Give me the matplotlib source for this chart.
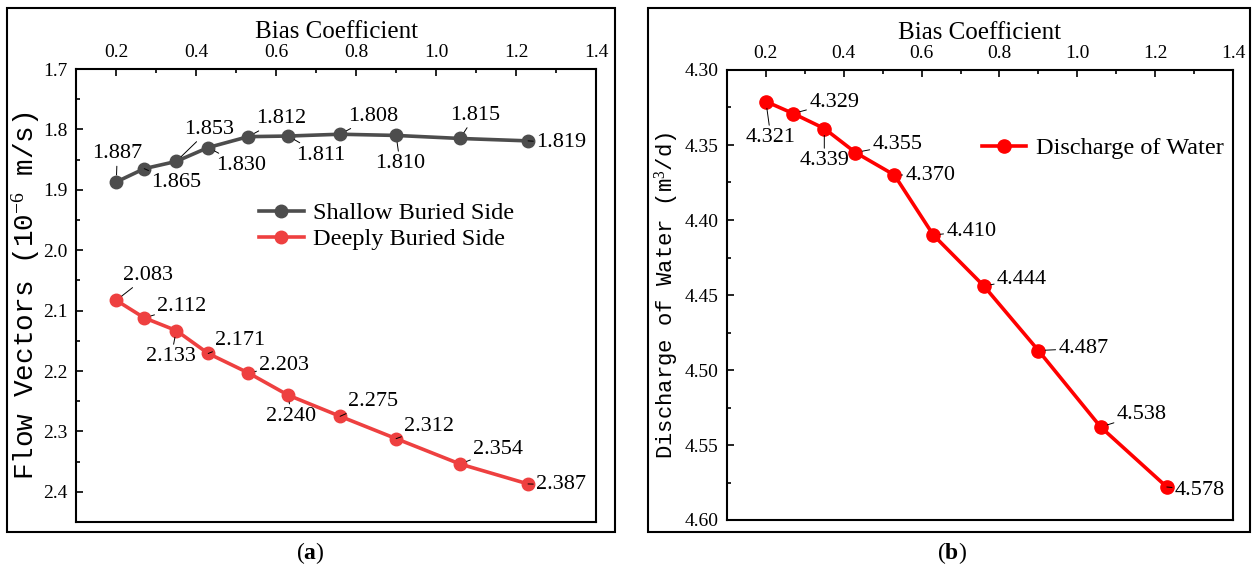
import matplotlib.pyplot as plt
from matplotlib.patches import Rectangle
from matplotlib.ticker import MultipleLocator

plt.rcParams['font.family'] = 'Liberation Serif'
plt.rcParams['mathtext.fontset'] = 'custom'
plt.rcParams['mathtext.rm'] = 'Liberation Serif'
plt.rcParams['mathtext.it'] = 'Liberation Serif:italic'
plt.rcParams['mathtext.bf'] = 'Liberation Serif:bold'

# ---------------------------------------------------------
# data
# ---------------------------------------------------------
bias = [0.20, 0.27, 0.35, 0.43, 0.53, 0.63, 0.76, 0.90, 1.06, 1.23]
shallow = [1.887, 1.865, 1.853, 1.830, 1.812, 1.811, 1.808, 1.810, 1.815, 1.819]
deep = [2.083, 2.112, 2.133, 2.171, 2.203, 2.240, 2.275, 2.312, 2.354, 2.387]
discharge = [4.321, 4.329, 4.339, 4.355, 4.370, 4.410, 4.444, 4.487, 4.538, 4.578]

# label placement: (dx px, dy px downwards, alignment)
shallow_pos = [(1, -28, 'center'), (7, 14, 'left'), (8, -32, 'left'), (8, 18, 'left'),
               (8, -18, 'left'), (8, 19, 'left'), (8, -18, 'left'), (4, 28, 'center'),
               (15, -23, 'center'), (8, 2, 'left')]
deep_pos = [(7, -25, 'left'), (13, -11, 'left'), (-5, 26, 'center'), (7, -13, 'left'),
            (11, -7, 'left'), (3, 21, 'center'), (8, -15, 'left'), (8, -12, 'left'),
            (13, -15, 'left'), (8, 1, 'left')]
discharge_pos = [(5, 36, 'center'), (16, -11, 'left'), (0, 32, 'center'), (17, -8, 'left'),
                 (11, 0, 'left'), (13, -4, 'left'), (13, -7, 'left'), (20, -2, 'left'),
                 (16, -13, 'left'), (8, 3, 'left')]

W, H = 1253, 570
fig = plt.figure(figsize=(W / 100, H / 100), dpi=100)


def label_points(ax, xs, ys, placement):
    for x, y, (dx, dy, ha) in zip(xs, ys, placement):
        ax.annotate(f"{y:.3f}", xy=(x, y), xytext=(dx, -dy), textcoords='offset pixels',
                    ha=ha, va='center', fontsize=16,
                    arrowprops=dict(arrowstyle='-', lw=0.7, color='black',
                                    shrinkA=0, shrinkB=5))


def style_axes(ax, ymin, ymax, ymajor, yminor, ylabel, ysize, ylabelpad):
    ax.set_xlim(0.1, 1.4)
    ax.set_ylim(ymax, ymin)
    ax.xaxis.set_major_locator(MultipleLocator(0.2))
    ax.xaxis.set_minor_locator(MultipleLocator(0.1))
    ax.yaxis.set_major_locator(MultipleLocator(ymajor))
    ax.yaxis.set_minor_locator(MultipleLocator(yminor))
    ax.xaxis.set_label_position('top')
    ax.tick_params(which='both', direction='in', top=True, bottom=False,
                   labeltop=True, labelbottom=False, left=True, right=False,
                   width=1.2)
    ax.tick_params(which='major', length=5, labelsize=14, pad=6)
    ax.tick_params(which='minor', length=3)
    for sp in ax.spines.values():
        sp.set_linewidth(1.5)
    ax.set_xlabel("Bias Coefficient", fontsize=18, labelpad=4)
    ax.set_ylabel(ylabel, fontsize=ysize, labelpad=ylabelpad,
                  family='Liberation Mono')


# ---------------------------------------------------------
# (a) flow vectors
# ---------------------------------------------------------
ax1 = fig.add_axes([76.3 / W, 48 / H, 519.7 / W, 453 / H])
ax1.plot(bias, shallow, color='#4d4d4d', lw=2.6, marker='o', ms=9,
         label='Shallow Buried Side')
ax1.plot(bias, deep, color='#ee4040', lw=2.6, marker='o', ms=9,
         label='Deeply Buried Side')
style_axes(ax1, 1.7, 2.45, 0.1, 0.05, r"Flow Vectors (10$^{-6}$ m/s)", 20, 1)
ax1.yaxis.set_major_formatter(plt.FormatStrFormatter('%.1f'))
label_points(ax1, bias, shallow, shallow_pos)
label_points(ax1, bias, deep, deep_pos)
ax1.legend(loc='center left', bbox_to_anchor=(0.351, 0.653), frameon=False,
           fontsize=17.5, borderpad=0, borderaxespad=0, handlelength=1.85,
           handletextpad=0.4, labelspacing=0.15)

# ---------------------------------------------------------
# (b) discharge of water
# ---------------------------------------------------------
ax2 = fig.add_axes([727 / W, 50 / H, 506 / W, 450 / H])
ax2.plot(bias, discharge, color='#ff0000', lw=2.6, marker='o', ms=9.5,
         label='Discharge of Water')
style_axes(ax2, 4.30, 4.60, 0.05, 0.025, r"Discharge of Water (m$^{3}$/d)", 16, 3)
ax2.yaxis.set_major_formatter(plt.FormatStrFormatter('%.2f'))
label_points(ax2, bias, discharge, discharge_pos)
ax2.legend(loc='center left', bbox_to_anchor=(0.503, 0.826), frameon=False,
           fontsize=17.5, borderpad=0, borderaxespad=0, handlelength=1.85,
           handletextpad=0.4)

# panel frames and captions
fig.add_artist(Rectangle((7 / W, 38 / H), 608 / W, 524 / H, transform=fig.transFigure,
                         fill=False, lw=1.5, ec='black'))
fig.add_artist(Rectangle((648 / W, 38 / H), 602 / W, 524 / H, transform=fig.transFigure,
                         fill=False, lw=1.5, ec='black'))
fig.text(310 / W, 1 - 553 / H, r"($\mathbf{a}$)", ha='center', va='center', fontsize=17)
fig.text(952 / W, 1 - 553 / H, r"($\mathbf{b}$)", ha='center', va='center', fontsize=17)

fig.savefig("out.png", dpi=100)
